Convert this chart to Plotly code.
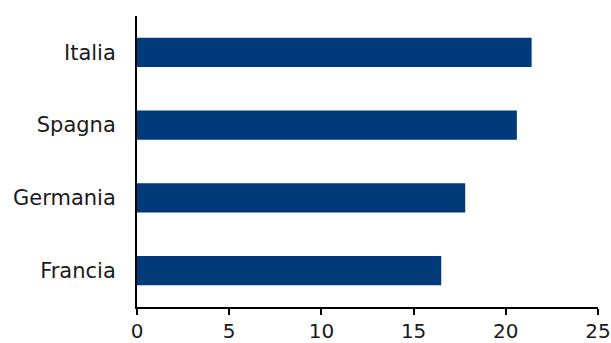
import plotly.graph_objects as go

countries = ["Francia", "Germania", "Spagna", "Italia"]
values = [16.5, 17.8, 20.6, 21.4]
x_ticks = [0, 5, 10, 15, 20, 25]

fig = go.Figure(go.Bar(
    x=values, y=countries, orientation="h",
    marker=dict(color="#003A79", line=dict(width=0)),
    width=0.4,
))

font_family = "Century Gothic, URW Gothic, DejaVu Sans, sans-serif"
fig.update_layout(
    width=611, height=343,
    margin=dict(l=137, r=13, t=15.5, b=35.5, autoexpand=False),
    plot_bgcolor="white", paper_bgcolor="white",
    showlegend=False,
    font=dict(family=font_family, size=21, color="#1a1a1a"),
)
fig.update_xaxes(
    range=[0, 25], tickvals=x_ticks, ticktext=[str(v) for v in x_ticks],
    showgrid=False, zeroline=False, automargin=False,
    showline=True, linecolor="#000000", linewidth=2,
    ticks="outside", ticklen=6, tickwidth=2, tickcolor="#000000",
    tickfont=dict(size=20), ticklabelstandoff=-1,
    ticklabeloverflow="allow",
)
fig.update_yaxes(
    categoryorder="array", categoryarray=countries,
    showgrid=False, zeroline=False, automargin=False,
    showline=True, linecolor="#000000", linewidth=2,
    ticks="", ticklabelstandoff=15,
    tickfont=dict(size=21),
)

fig.write_html("out.html")
